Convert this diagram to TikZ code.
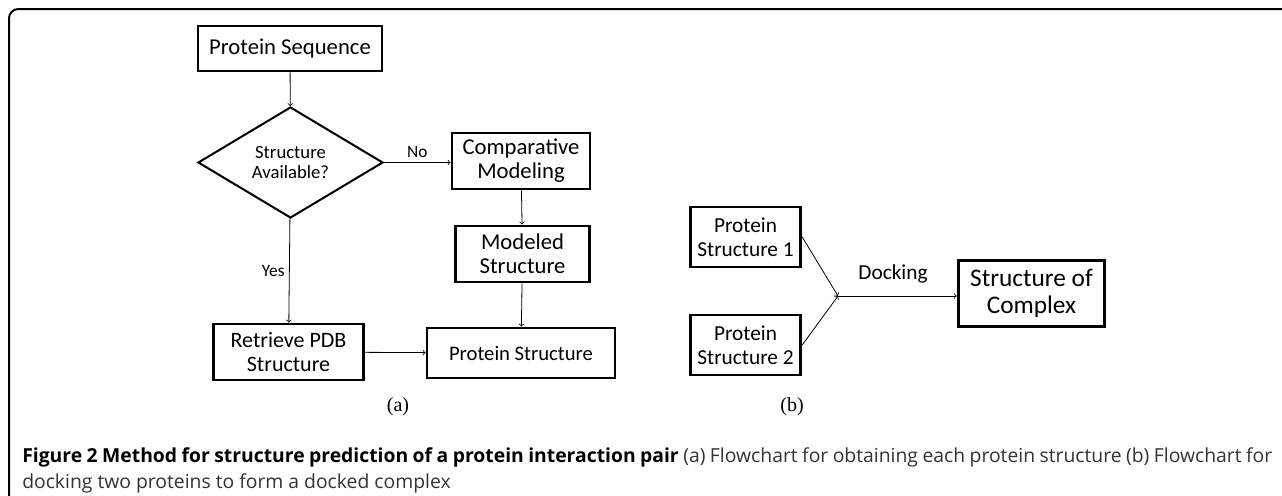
\documentclass[tikz,border=0pt]{standalone}
\usepackage{fontspec}
\setmainfont{Carlito}
\newfontfamily\capfont{Open Sans}
\newfontfamily\labfont{Liberation Serif}
\usetikzlibrary{shapes.geometric}
\begin{document}
\begin{tikzpicture}[x=0.75pt,y=-0.75pt,
  box/.style={draw,line width=2.1pt,align=center,inner sep=0pt},
  conn/.style={->,line width=0.6pt}]
\useasboundingbox (0,0) rectangle (1282,496);
\draw[line width=1.5pt,rounded corners=7pt] (9,496) -- (9,9) -- (1282,9);
% (a) flowchart
\node[box,minimum width=138pt,minimum height=33.75pt,font=\fontsize{17}{19}\selectfont] (seq) at (290,48.5) {Protein Sequence};
\node[draw,diamond,aspect=1.7,line width=1.5pt,minimum width=138.75pt,minimum height=83.25pt,inner sep=0pt,align=center,font=\fontsize{14}{15}\selectfont] (avail) at (290.5,162.5) {Structure\\Available?};
\node[box,minimum width=103.5pt,minimum height=42pt,font=\fontsize{17}{18}\selectfont] (comp) at (521,161) {Comparative\\Modeling};
\node[box,minimum width=101pt,minimum height=42pt,font=\fontsize{17}{18}\selectfont] (model) at (522.5,254) {Modeled\\Structure};
\node[box,minimum width=141pt,minimum height=37.5pt,font=\fontsize{15.5}{18}\selectfont] (pstruct) at (521,353) {Protein Structure};
\node[box,minimum width=112pt,minimum height=42pt,font=\fontsize{16.5}{18}\selectfont] (pdb) at (288.5,352) {Retrieve PDB\\Structure};
\draw[conn] (seq) -- (avail);
\draw[conn] (avail.east) -- node[above,font=\fontsize{13}{15}\selectfont] {No} (comp.west |- avail.east);
\draw[conn] (comp) -- (model);
\draw[conn] (model) -- (pstruct);
\draw[conn] (avail) -- node[left,font=\fontsize{13}{15}\selectfont] {Yes} (pdb);
\draw[conn] (pdb) -- (pstruct);
\node[font=\labfont\fontsize{15}{17}\selectfont] (laba) at (398,407) {(a)};
% (b) docking
\node[box,minimum width=83pt,minimum height=45pt,font=\fontsize{16}{18}\selectfont] (ps1) at (745.5,237) {Protein\\Structure 1};
\node[box,minimum width=83pt,minimum height=45pt,font=\fontsize{16}{18}\selectfont] (ps2) at (745.5,345) {Protein\\Structure 2};
\node[box,minimum width=110pt,minimum height=49pt,font=\fontsize{19}{20}\selectfont] (cplx) at (1031.5,293.5) {Structure of\\Complex};
\coordinate (dock) at (838,296);
\draw[conn] (ps1.east) -- (dock);
\draw[conn] (ps2.east) -- (dock);
\draw[conn] (dock) -- (cplx.west |- dock);
\node[font=\fontsize{16}{18}\selectfont] (docklab) at (893,274) {Docking};
\node[font=\labfont\fontsize{15}{17}\selectfont] (labb) at (792,407) {(b)};
% caption
\node[anchor=north west,text width=937.5pt,align=justify,inner sep=0pt,font=\capfont\fontsize{14.5}{19.5}\selectfont] (caption) at (22,447) {\textbf{Figure 2 Method for structure prediction of a protein interaction pair} \textcolor{black!80}{(a) Flowchart for obtaining each protein structure (b) Flowchart for\linebreak docking two proteins to form a docked complex}};
\end{tikzpicture}
\end{document}
